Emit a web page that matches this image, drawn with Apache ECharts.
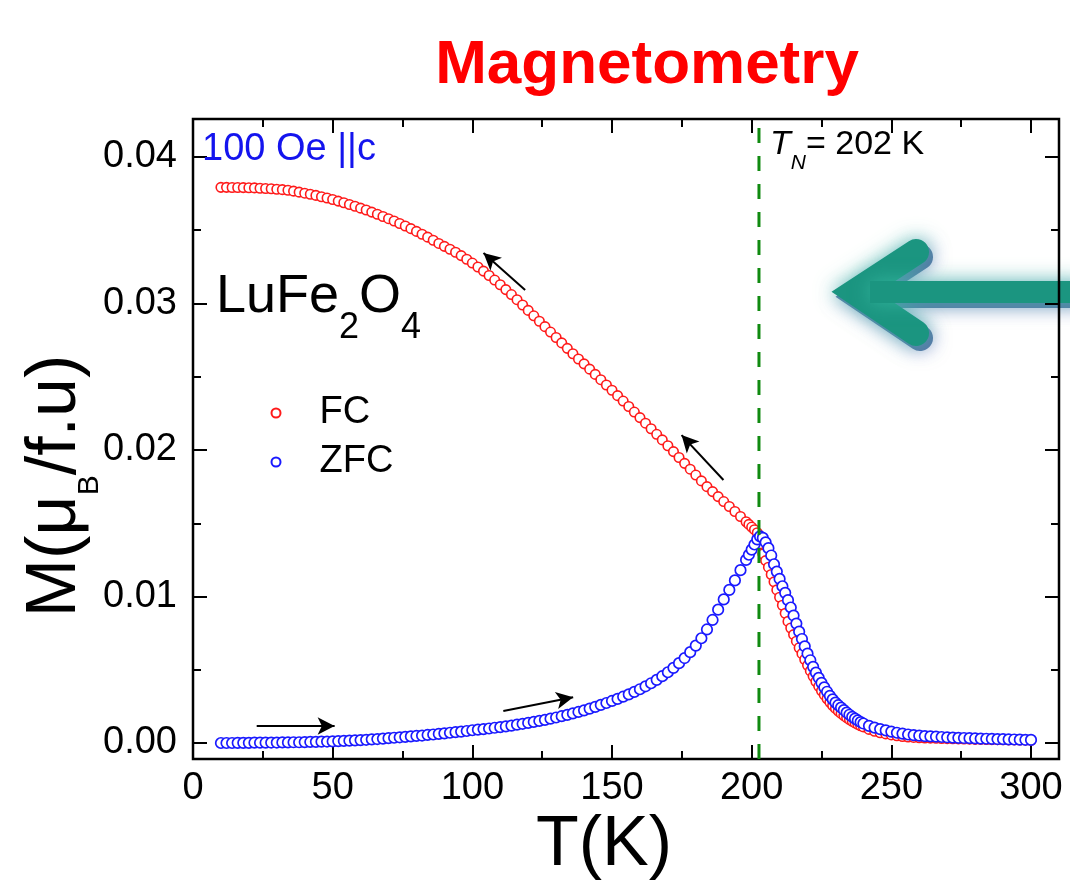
<!DOCTYPE html>
<html><head><meta charset="utf-8">
<script src="https://cdn.jsdelivr.net/npm/echarts@6/dist/echarts.min.js"></script>
<style>html,body{margin:0;padding:0;background:#fff}#c{width:1070px;height:892px}</style>
</head><body><div id="c"></div><script>
const FONT = '"Liberation Sans", Arial, Helvetica, sans-serif';

// Temperature (K)
const temps = [10,12,14,16,18,20,22,24,26,28,30,32,34,36,38,40,42,44,46,48,50,52,54,56,58,60,62,64,66,68,70,72,74,76,78,80,82,84,86,88,90,92,94,96,98,100,102,104,106,108,110,112,114,116,118,120,122,124,126,128,130,132,134,136,138,140,142,144,146,148,150,152,154,156,158,160,162,164,166,168,170,172,174,176,178,180,182,184,186,188,190,192,194,196,198,
199,200,201,202,203,204,205,206,207,208,209,210,211,212,213,214,215,216,217,218,219,220,221,222,223,224,225,226,227,228,229,230,231,232,233,234,235,236,237,238,239,240,
242,244,246,248,250,252,254,256,258,260,262,264,266,268,270,272,274,276,278,280,282,284,286,288,290,292,294,296,298,300];

// FC magnetization, in 10^-3 muB/f.u.
const fcMilli = [37.93,37.93,37.92,37.92,37.91,37.90,37.89,37.87,37.85,37.83,
37.80,37.77,37.73,37.67,37.60,37.53,37.46,37.38,37.29,37.20,
37.10,36.99,36.88,36.76,36.64,36.51,36.38,36.24,36.09,35.94,
35.79,35.63,35.46,35.29,35.11,34.92,34.73,34.53,34.32,34.10,
33.90,33.70,33.50,33.27,33.02,32.76,32.49,32.21,31.91,31.60,
31.28,30.95,30.61,30.26,29.90,29.53,29.16,28.79,28.42,28.05,
27.68,27.31,26.94,26.57,26.21,25.88,25.52,25.16,24.80,24.44,
24.08,23.71,23.34,22.97,22.59,22.21,21.83,21.45,21.07,20.69,
20.29,19.89,19.49,19.09,18.69,18.29,17.89,17.50,17.16,16.82,
16.48,16.14,15.80,15.46,15.10,
14.92,14.74,14.56,14.35,13.60,12.90,12.45,12.00,11.50,11.00,
10.45,9.95,9.40,8.85,8.30,7.85,7.40,6.95,6.50,6.10,
5.70,5.30,4.92,4.55,4.20,3.87,3.56,3.28,3.02,2.78,
2.56,2.36,2.18,2.02,1.87,1.73,1.60,1.48,1.37,1.27,
1.18,1.10,
0.93,0.80,0.70,0.62,0.55,0.49,0.44,0.41,0.38,0.36,
0.34,0.33,0.32,0.31,0.30,0.29,0.28,0.27,0.26,0.25,
0.25,0.24,0.23,0.23,0.22,0.21,0.21,0.20,0.20,0.19];

// ZFC magnetization, in 10^-3 muB/f.u.
const zfcMilli = [0.00,0.00,0.00,0.01,0.01,0.01,0.02,0.02,0.02,0.03,
0.03,0.04,0.04,0.05,0.05,0.06,0.07,0.08,0.09,0.10,
0.11,0.13,0.14,0.16,0.18,0.20,0.22,0.25,0.27,0.30,
0.33,0.36,0.39,0.42,0.45,0.48,0.51,0.55,0.58,0.62,
0.66,0.70,0.74,0.78,0.82,0.87,0.91,0.95,0.99,1.04,
1.08,1.13,1.19,1.25,1.31,1.37,1.44,1.51,1.58,1.66,
1.74,1.83,1.92,2.02,2.12,2.23,2.35,2.47,2.60,2.73,
2.87,3.01,3.16,3.32,3.49,3.67,3.87,4.08,4.31,4.56,
4.83,5.13,5.45,5.80,6.20,6.65,7.15,7.75,8.40,9.10,
9.80,10.45,11.10,11.80,12.50,
12.85,13.20,13.55,13.90,14.10,14.00,13.70,13.30,12.80,12.20,
11.70,11.20,10.70,10.25,9.75,9.25,8.70,8.15,7.60,7.10,
6.60,6.10,5.65,5.20,4.80,4.45,4.10,3.80,3.50,3.22,
2.98,2.76,2.58,2.42,2.25,2.08,1.93,1.79,1.66,1.54,
1.43,1.33,
1.17,1.05,0.95,0.86,0.78,0.70,0.64,0.58,0.54,0.50,
0.47,0.45,0.43,0.41,0.39,0.37,0.35,0.34,0.33,0.31,
0.30,0.29,0.28,0.27,0.26,0.25,0.24,0.23,0.22,0.21];

// Axis ticks
const xTickValues = [0, 50, 100, 150, 200, 250, 300];
const yTickLabels = ['0.00', '0.01', '0.02', '0.03', '0.04'];
const xFrame = [0, 310];
const yFrame = [-0.0011, 0.0426];

// Neel temperature marker
const tN = 202.6;

// Direction arrows [T_from, M_from(1e-3), T_to, M_to(1e-3)]
const arrows = [[118.9, 30.92, 104.0, 33.45], [189.9, 17.95, 174.9, 21.02], [22.8, 1.16, 50.7, 1.16], [111.1, 2.18, 136.1, 3.12]];

const fcData = temps.map((t, i) => [t, fcMilli[i] / 1000]);
const zfcData = temps.map((t, i) => [t, zfcMilli[i] / 1000]);

const tickStyle = { color: '#000', width: 2 };
function xAxisTicks(extra) {
  return Object.assign({
    type: 'value', gridIndex: 0, min: xTickValues[0], max: xTickValues[xTickValues.length - 1], interval: 50,
    axisLine: { show: false, onZero: false }, splitLine: { show: false },
    axisTick: { show: true, inside: true, length: 14, lineStyle: tickStyle },
    minorTick: { show: true, splitNumber: 2, length: 8, lineStyle: tickStyle },
    axisLabel: { show: false }
  }, extra);
}
function yAxisTicks(extra) {
  return Object.assign({
    type: 'value', gridIndex: 0, min: 0, max: 0.04, interval: 0.01,
    axisLine: { show: false, onZero: false }, splitLine: { show: false },
    axisTick: { show: true, inside: true, length: 14, lineStyle: tickStyle },
    minorTick: { show: true, splitNumber: 2, length: 8, lineStyle: tickStyle },
    axisLabel: { show: false }
  }, extra);
}

const chart = echarts.init(document.getElementById('c'), null, { renderer: 'canvas' });

const arrowColor = '#1b9580';
const option = {
  animation: false,
  backgroundColor: '#fff',
  grid: [
    { left: 193, right: 39, top: 157, bottom: 149, show: false, containLabel: false, outerBoundsMode: 'none' },
    { left: 193, right: 11, top: 119, bottom: 133, show: true, borderColor: '#000', borderWidth: 2.5, backgroundColor: 'transparent', containLabel: false, outerBoundsMode: 'none' }
  ],
  xAxis: [
    xAxisTicks({ position: 'bottom', offset: 16, axisLabel: { show: true, fontSize: 38, fontFamily: FONT, color: '#000', margin: 11, formatter: v => xTickValues.includes(v) ? String(v) : '' } }),
    xAxisTicks({ position: 'top', offset: 38 }),
    { type: 'value', gridIndex: 1, min: xFrame[0], max: xFrame[1], show: false, axisLine: { onZero: false } }
  ],
  yAxis: [
    yAxisTicks({ position: 'left', offset: 0, axisLabel: { show: true, fontSize: 38, fontFamily: FONT, color: '#000', margin: 16, formatter: v => yTickLabels[Math.round(v * 100)] || '' } }),
    yAxisTicks({ position: 'right', offset: 28 }),
    { type: 'value', gridIndex: 1, min: yFrame[0], max: yFrame[1], show: false, axisLine: { onZero: false } }
  ],
  legend: {
    show: true, orient: 'vertical', left: 270.5, top: 394, padding: 0,
    itemWidth: 9, itemHeight: 9, itemGap: 11, selectedMode: false,
    data: ['FC', 'ZFC'],
    textStyle: { fontSize: 38, fontFamily: FONT, color: '#000', lineHeight: 38, padding: [0, 0, 0, 34] }
  },
  series: [
    {
      name: 'FC', type: 'scatter', xAxisIndex: 0, yAxisIndex: 0, data: fcData, clip: false,
      symbol: 'circle', symbolSize: 9.5,
      itemStyle: { color: '#fff', borderColor: '#ff1a1a', borderWidth: 1.6, opacity: 1 },
      z: 2,
      markLine: {
        silent: true, symbol: ['none', 'arrow'], symbolSize: [13, 17],
        lineStyle: { color: '#000', width: 2, type: 'solid' },
        label: { show: false },
        emphasis: { disabled: true },
        data: arrows.map(a => [{ coord: [a[0], a[1] / 1000] }, { coord: [a[2], a[3] / 1000] }])
      }
    },
    {
      name: 'ZFC', type: 'scatter', xAxisIndex: 0, yAxisIndex: 0, data: zfcData, clip: false,
      symbol: 'circle', symbolSize: 10.5,
      itemStyle: { color: '#fff', borderColor: '#1a1aff', borderWidth: 1.7, opacity: 1 },
      z: 2
    },
    {
      name: 'TN', type: 'line', xAxisIndex: 2, yAxisIndex: 2, clip: false,
      data: [[tN, yFrame[0]], [tN, yFrame[1]]], symbol: 'none', silent: true,
      lineStyle: { color: '#108a10', width: 3, type: [15, 13] },
      z: 3
    }
  ],
  graphic: [
    // decorative teal arrow (behind the frame)
    { type: 'polyline', z: -1, x: 4, y: 5, shape: { points: [[916, 252], [855, 292], [916, 333]] },
      style: { fill: null, stroke: '#5a74a8', lineWidth: 26, lineCap: 'round', lineJoin: 'miter', shadowBlur: 18, shadowColor: 'rgba(150,120,210,0.6)' } },
    { type: 'line', z: -1, x: 4, y: 5, shape: { x1: 870, y1: 292, x2: 1085, y2: 292 },
      style: { stroke: '#5a74a8', lineWidth: 22, shadowBlur: 18, shadowColor: 'rgba(150,120,210,0.6)' } },
    { type: 'polyline', z: -1, shape: { points: [[916, 252], [855, 292], [916, 333]] },
      style: { fill: null, stroke: arrowColor, lineWidth: 26, lineCap: 'round', lineJoin: 'miter', shadowBlur: 20, shadowColor: 'rgba(60,190,165,0.75)' } },
    { type: 'line', z: -1, shape: { x1: 870, y1: 292, x2: 1085, y2: 292 },
      style: { stroke: arrowColor, lineWidth: 22, shadowBlur: 20, shadowColor: 'rgba(60,190,165,0.75)' } },
    // title
    { type: 'text', x: 647, y: 66, z: 10,
      style: { text: 'Magnetometry', fontSize: 62, fontWeight: 'bold', fontFamily: FONT, fill: '#ff0000', align: 'center', verticalAlign: 'middle' } },
    // field label
    { type: 'text', x: 202, y: 150, z: 10,
      style: { text: '100 Oe ||c', fontSize: 38, fontFamily: FONT, fill: '#1414ee', align: 'left', verticalAlign: 'middle' } },
    // compound
    { type: 'text', x: 216, y: 297, z: 10,
      style: { text: '{n|LuFe}{s|2}{n|O}{s|4}', align: 'left', verticalAlign: 'middle',
        rich: { n: { fontSize: 54, fontFamily: FONT, fill: '#000' }, s: { fontSize: 36, fontFamily: FONT, fill: '#000', padding: [62, 0, 0, 0] } } } },
    // T_N label
    { type: 'text', x: 770, y: 145, z: 10,
      style: { text: '{t|T}{s|N}{n|= 202 K}', align: 'left', verticalAlign: 'middle',
        rich: { t: { fontSize: 34, fontStyle: 'italic', fontFamily: FONT, fill: '#000' },
                s: { fontSize: 21, fontStyle: 'italic', fontFamily: FONT, fill: '#000', padding: [36, 0, 0, 0] },
                n: { fontSize: 34, fontFamily: FONT, fill: '#000' } } } },
    // x axis title
    { type: 'text', x: 604, y: 846, z: 10,
      style: { text: 'T(K)', fontSize: 70, fontFamily: FONT, fill: '#000', align: 'center', verticalAlign: 'middle' } },
    // y axis title
    { type: 'text', x: 56, y: 486, rotation: Math.PI / 2, z: 10,
      style: { text: '{n|M(μ}{s|B}{n|/f.u)}', align: 'center', verticalAlign: 'middle',
        rich: { n: { fontSize: 70, fontFamily: FONT, fill: '#000' }, s: { fontSize: 30, fontFamily: FONT, fill: '#000', padding: [68, 0, 0, 0] } } } }
  ]
};
chart.setOption(option);
</script></body></html>
